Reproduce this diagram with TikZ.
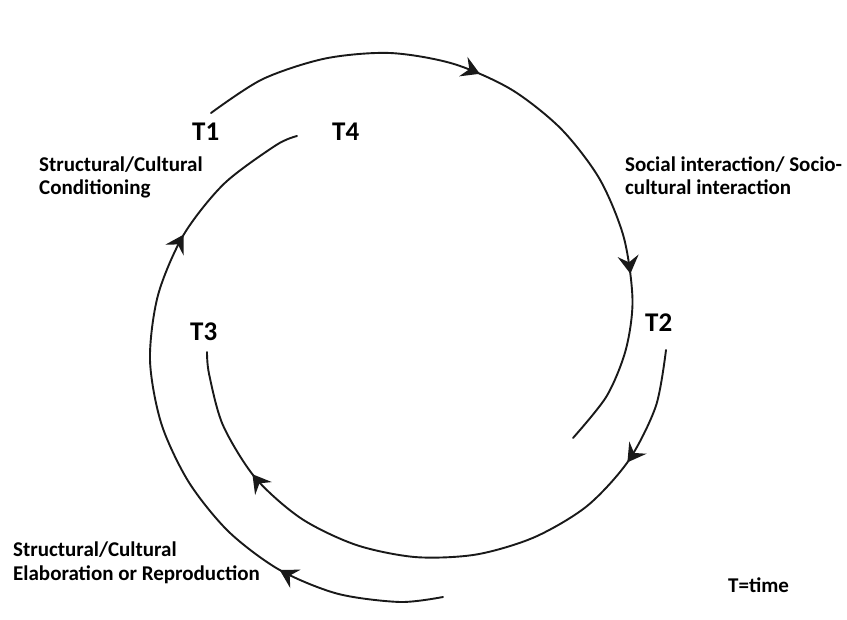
\documentclass[tikz,border=0pt]{standalone}
\usepackage{fontspec}
\setmainfont{Carlito}
\usetikzlibrary{arrows.meta,decorations.markings}

\tikzset{
  cyctip/.tip={Stealth[length=18pt,width=21pt,inset=6.5pt]},
  cyc/.style={line width=1.9pt, draw=black!90, line cap=round},
  twoheads/.style 2 args={postaction={decorate,decoration={markings,
      mark=at position #1 with {\arrow{cyctip}},
      mark=at position #2 with {\arrow{cyctip}}}}},
  lbl/.style={font=\bfseries\fontsize{21}{23.5}\selectfont, inner sep=0pt,
      anchor=base west, align=left, text=black},
  tlbl/.style={font=\bfseries\fontsize{27}{30}\selectfont, inner sep=0pt,
      anchor=base west, text=black}
}

\begin{document}
\begin{tikzpicture}[x=1pt,y=-1pt]
\useasboundingbox[fill=white] (0,0) rectangle (847,620);

% time labels
\node[tlbl] (T1) at (192,141) {T1};
\node[tlbl] (T2) at (645,332) {T2};
\node[tlbl] (T3) at (190,341) {T3};
\node[tlbl] (T4) at (332,141) {T4};

% phase labels (placed by the baseline of their last line)
\node[lbl] (cond) at (39,195) {Structural/Cultural\\Conditioning};
\node[lbl] (inter) at (625,195) {Social interaction/ Socio-\\cultural interaction};
\node[lbl] (elab) at (13,580) {Structural/Cultural\\Elaboration or Reproduction};
\node[lbl] (key) at (728,592) {T=time};

% end points of the three arcs
\coordinate (a1s) at (211,113);
\coordinate (a1e) at (573,438);
\coordinate (a2s) at (666,350);
\coordinate (a2e) at (207,352);
\coordinate (a3s) at (443,597);
\coordinate (a3e) at (297,136);

% T1 -> T2 : conditioning gives way to interaction
\draw[cyc, twoheads={0.392}{0.752}] plot[smooth] coordinates {
  (a1s) (262.5,79.2) (325.3,58.5) (390,53) (453.3,63.8) (511.5,89.6)
  (561.1,128.9) (599.6,179) (623.8,237.4) (632.5,300) (625.7,350.1)
  (606.5,396.4) (a1e)};

% T2 -> T3 : interaction
\draw[cyc, twoheads={0.176}{0.806}] plot[smooth] coordinates {
  (a2s) (655.9,406) (628.5,460.8) (587.1,506) (534.5,537.2) (476.3,554.5)
  (415.8,557.1) (356.3,545) (301.2,518.5) (255.2,477.7) (223,425.3)
  (209.1,374.2) (a2e)};

% T3 -> T4 : elaboration or reproduction
\draw[cyc, twoheads={0.238}{0.785}] plot[smooth] coordinates {
  (a3s) (400,602) (337.4,593.7) (279,569.6) (228.5,531.5) (188.7,482)
  (161.4,423.9) (150,360) (158,295.2) (183.5,235) (223.9,183.9)
  (276,145.2) (a3e)};
\end{tikzpicture}
\end{document}
